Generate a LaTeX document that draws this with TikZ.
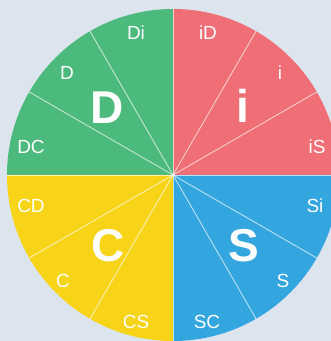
\documentclass[tikz,border=0pt]{standalone}
\usepackage{fontspec}
\setmainfont{Liberation Sans}
\definecolor{bgc}{RGB}{220,228,238}
\definecolor{dgreen}{RGB}{77,186,125}
\definecolor{ired}{RGB}{240,110,117}
\definecolor{syellow}{RGB}{247,212,23}
\definecolor{cblue}{RGB}{52,166,223}
\begin{document}
\begin{tikzpicture}[x=1pt,y=1pt,
  divider/.style={draw=white, draw opacity=0.65, line width=0.9pt},
  small/.style={text=white, inner sep=0pt, font=\fontsize{19}{19}\selectfont},
  big/.style={text=white, inner sep=0pt, font=\fontsize{46}{46}\selectfont\bfseries}]
\useasboundingbox (0,0) rectangle (331,341);
\fill[bgc] (0,0) rectangle (331,341);
\coordinate (c) at (173,166);
\begin{scope}
\clip (0,0) rectangle (331,341);
\fill[dgreen] (c) -- ++(90:166) arc[start angle=90,end angle=180,radius=166] -- cycle;
\fill[ired] (c) -- ++(0:166) arc[start angle=0,end angle=90,radius=166] -- cycle;
\fill[syellow] (c) -- ++(180:166) arc[start angle=180,end angle=270,radius=166] -- cycle;
\fill[cblue] (c) -- ++(270:166) arc[start angle=270,end angle=360,radius=166] -- cycle;
\foreach \a in {0,30,...,330} \draw[divider] (c) -- ++(\a:166);
\end{scope}
\node[small] (lDi) at (136,308) {Di};
\node[small] (liD) at (208,308) {iD};
\node[small] (lD) at (67,268) {D};
\node[small] (li) at (280,268) {i};
\node[small] (lDC) at (31,194) {DC};
\node[small] (liS) at (317,194) {iS};
\node[small] (lCD) at (31,135) {CD};
\node[small] (lSi) at (315,135) {Si};
\node[small] (lC) at (63,60) {C};
\node[small] (lS) at (283,60) {S};
\node[small] (lCS) at (136,19) {CS};
\node[small] (lSC) at (207,19) {SC};
\node[big] (bD) at (107,233) {D};
\node[big] (bi) at (243,235) {i};
\node[big] (bC) at (108,95) {C};
\node[big] (bS) at (244,95) {S};
\end{tikzpicture}
\end{document}
